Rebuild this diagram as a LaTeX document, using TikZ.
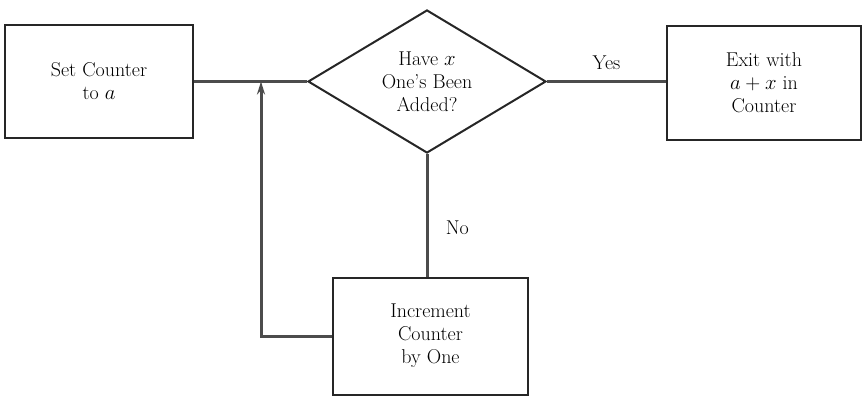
\documentclass[tikz,border=0pt]{standalone}
\usetikzlibrary{shapes.geometric,arrows.meta}
\tikzset{
    box/.style={draw,line width=2pt,black!85,text=black,align=center,inner sep=0pt},
    decide/.style={draw,diamond,aspect=1.66,line width=2pt,black!85,text=black,align=center,inner sep=0pt,minimum width=238pt,minimum height=143pt},
    flow/.style={line width=3pt,black!70},
    lbl/.style={font=\fontsize{20}{23}\selectfont}
}
\begin{document}
\begin{tikzpicture}[x=1pt,y=-1pt,font=\fontsize{20}{23}\selectfont]
    \useasboundingbox (0,0) rectangle (863,396);
    \node[box,minimum width=188pt,minimum height=113pt] (set) at (99,81.5) {Set Counter\\to $a$};
    \node[decide] (test) at (427,81.5) {Have $x$\\One's Been\\Added?};
    \node[box,minimum width=194pt,minimum height=114pt] (exit) at (764,83) {Exit with\\$a+x$ in\\Counter};
    \node[box,minimum width=195pt,minimum height=117pt] (inc) at (430.5,336) {Increment\\Counter\\by One};
    \coordinate (join) at (261,81.5);
    \draw[flow] (set.east) -- (test.west);
    \draw[flow] (test.east) -- node[above=7pt,lbl,text=black]{Yes} (test.east -| exit.west);
    \draw[flow] (test.south) -- node[right=14pt,lbl,text=black,pos=0.6]{No} (test.south |- inc.north);
    \draw[flow,-{Stealth[length=13pt,width=8pt]}] (inc.west) -| (join);
\end{tikzpicture}
\end{document}
